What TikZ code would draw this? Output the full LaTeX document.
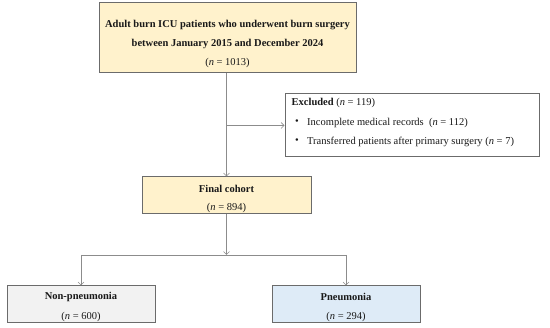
\documentclass[tikz,border=0pt]{standalone}
\usepackage{fontspec}
\setmainfont{Liberation Serif}
\usetikzlibrary{arrows.meta}
\definecolor{yfill}{HTML}{FFF2CC}
\definecolor{gfill}{HTML}{F2F2F2}
\definecolor{bfill}{HTML}{DEEBF7}
\definecolor{bordc}{HTML}{6B6B6B}
\definecolor{linec}{HTML}{8C8C8C}
\tikzset{
  box/.style={draw=bordc, line width=1pt, inner sep=0pt},
  txt/.style={inner sep=0pt, font=\fontsize{10.5}{12}\selectfont, text=black!90},
  conn/.style={draw=linec, line width=0.6pt},
  arr/.style={conn, -{Straight Barb[length=3pt,width=6pt]}},
}
\begin{document}
\begin{tikzpicture}[x=1pt,y=-1pt]
\useasboundingbox (0,0) rectangle (550,328);
% boxes
\node[box, fill=yfill, minimum width=257pt, minimum height=70pt] (top) at (227.5,38) {};
\node[box, fill=white, minimum width=254pt, minimum height=63pt] (excl) at (412,125.5) {};
\node[box, fill=yfill, minimum width=169pt, minimum height=37pt] (final) at (226.5,195.5) {};
\node[box, fill=gfill, minimum width=148pt, minimum height=37pt] (nonp) at (81,304.5) {};
\node[box, fill=bfill, minimum width=148pt, minimum height=37pt] (pneu) at (346,304.5) {};
% texts
\node[txt, font=\fontsize{10.5}{12}\selectfont\bfseries] (t1) at (227.5,25) {Adult burn ICU patients who underwent burn surgery};
\node[txt, font=\fontsize{10.5}{12}\selectfont\bfseries] (t2) at (227.5,44) {between January 2015 and December 2024};
\node[txt] (t3) at (227.5,63) {(\textit{n} = 1013)};
\node[txt, anchor=west] (e1) at (291.5,103) {\textbf{Excluded} (\textit{n} = 119)};
\node[txt] (b1) at (297,122.5) {\textbullet};
\node[txt, anchor=west] (e2) at (307,122.5) {Incomplete medical records~~(\textit{n} = 112)};
\node[txt] (b2) at (297,141.5) {\textbullet};
\node[txt, anchor=west] (e3) at (307,141.5) {Transferred patients after primary surgery (\textit{n} = 7)};
\node[txt, font=\fontsize{10.5}{12}\selectfont\bfseries] (f1) at (226.5,189) {Final cohort};
\node[txt] (f2) at (226.5,208) {(\textit{n} = 894)};
\node[txt, font=\fontsize{10.5}{12}\selectfont\bfseries] (n1) at (81,297) {Non-pneumonia};
\node[txt] (n2) at (81,316.5) {(\textit{n} = 600)};
\node[txt, font=\fontsize{10.5}{12}\selectfont\bfseries] (p1) at (346,297) {Pneumonia};
\node[txt] (p2) at (346,316.5) {(\textit{n} = 294)};
% connectors
\coordinate (br) at (226.5,125.5);
\coordinate (sp) at (226.5,255);
\coordinate (sl) at (81,255);
\coordinate (sr) at (346,255);
\draw[arr] (top.south -| final.north) -- (final.north);
\draw[arr] (br) -- (excl.west);
\draw[arr] (final.south) -- (sp);
\draw[conn] (sl) -- (sr);
\draw[arr] (sl) -- (nonp.north);
\draw[arr] (sr) -- (pneu.north);
\end{tikzpicture}
\end{document}
